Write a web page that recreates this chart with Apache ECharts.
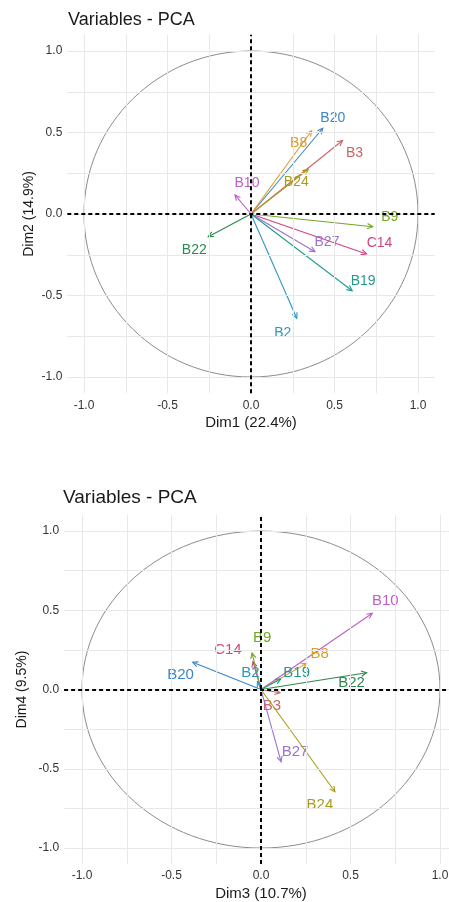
<!DOCTYPE html>
<html>
<head>
<meta charset="utf-8">
<script src="https://cdn.jsdelivr.net/npm/echarts@6/dist/echarts.min.js"></script>
<style>
html,body{margin:0;padding:0;background:#fff;}
#chart{width:449px;height:902px;}
</style>
</head>
<body>
<div id="chart"></div>
<script>
// ---------- data ----------
const titleText = 'Variables - PCA';
const tickLabels = [-1.0, -0.5, 0.0, 0.5, 1.0];
const gridValues = [-1, -0.75, -0.5, -0.25, 0, 0.25, 0.5, 0.75, 1];
const circleRadius = 1;

// Panel 1: Dim1 vs Dim2
const axis1Name = 'Dim1 (22.4%)';
const axis2Name = 'Dim2 (14.9%)';
const vars12 = ['B20', 'B8', 'B3', 'B24', 'B10', 'B9', 'C14', 'B27', 'B19', 'B2', 'B22'];
const dim1 = [0.43, 0.363, 0.548, 0.343, -0.096, 0.729, 0.692, 0.383, 0.606, 0.274, -0.256];
const dim2 = [0.526, 0.511, 0.451, 0.274, 0.117, -0.078, -0.245, -0.231, -0.471, -0.640, -0.139];

// Panel 2: Dim3 vs Dim4
const axis3Name = 'Dim3 (10.7%)';
const axis4Name = 'Dim4 (9.5%)';
const vars34 = ['B10', 'C14', 'B9', 'B20', 'B2', 'B8', 'B19', 'B22', 'B3', 'B27', 'B24'];
const dim3 = [0.622, -0.045, -0.05, -0.382, -0.02, 0.255, 0.11, 0.59, 0.106, 0.112, 0.413];
const dim4 = [0.481, 0.176, 0.230, 0.172, 0.05, 0.165, 0.066, 0.106, -0.02, -0.455, -0.645];

// ---------- styles ----------
const colorMap = {
  B20: '#3a86c8', B8: '#dc9a2c', B3: '#cf6366', B24: '#a89c1e', B10: '#bf5fc4',
  B9: '#74a824', B22: '#2b8a4e', B27: '#9a72d6', C14: '#cf4583', B19: '#1f9c8c', B2: '#2f97bd'
};
// label pixel offsets from the arrow tip (label centre)
const offsets12 = {
  B20: [10, -10], B8: [-13, 12], B3: [12, 13], B24: [-12, 13], B10: [12, -12],
  B9: [17, -10], C14: [13, -11], B27: [12, -10], B19: [11, -10], B2: [-14, 15], B22: [-14, 13]
};
const offsets34 = {
  B10: [13, -12], C14: [-25, -12], B9: [10, -15], B20: [-12, 13], B2: [-7, -9],
  B8: [13, -10], B19: [16, -6], B22: [-15, 10], B3: [-8, 13], B27: [14, -10], B24: [-15, 13]
};
const FONT = "'Liberation Sans', Arial, Helvetica, sans-serif";

function gridLineSeries(xi, yi) {
  const data = [];
  gridValues.forEach(v => { data.push({xAxis: v}); data.push({yAxis: v}); });
  return {
    type: 'scatter', xAxisIndex: xi, yAxisIndex: yi, data: [[0, 0]], symbolSize: 0, silent: true, z: 1,
    markLine: { silent: true, symbol: 'none', animation: false, label: {show: false},
      lineStyle: {color: '#e8e8e8', width: 1, type: 'solid'}, data: data }
  };
}
function zeroLineSeries(xi, yi) {
  return {
    type: 'scatter', xAxisIndex: xi, yAxisIndex: yi, data: [[0, 0]], symbolSize: 0, silent: true, z: 3,
    markLine: { silent: true, symbol: 'none', animation: false, label: {show: false},
      lineStyle: {color: '#000', width: 2, type: [4, 3]}, data: [{xAxis: 0}, {yAxis: 0}] }
  };
}
function circleSeries(xi, yi) {
  return {
    type: 'custom', xAxisIndex: xi, yAxisIndex: yi, data: [[0, 0]], silent: true, z: 2, clip: false,
    renderItem: function (params, api) {
      const c = api.coord([api.value(0), api.value(1)]);
      const s = api.size([circleRadius, circleRadius]);
      return { type: 'ellipse', shape: {cx: c[0], cy: c[1], rx: s[0], ry: s[1]},
        style: {fill: 'none', stroke: '#8c8c8c', lineWidth: 1} };
    }
  };
}
function arrowSeries(xi, yi, names, xs, ys, offs, fontSize) {
  return {
    type: 'custom', xAxisIndex: xi, yAxisIndex: yi, silent: true, z: 4, clip: false,
    data: names.map((n, i) => [xs[i], ys[i]]),
    renderItem: function (params, api) {
      const name = names[params.dataIndex];
      const col = colorMap[name];
      const p0 = api.coord([0, 0]);
      const p1 = api.coord([api.value(0), api.value(1)]);
      const ang = Math.atan2(p1[1] - p0[1], p1[0] - p0[0]);
      const L = 6, a = 0.45;
      const h1 = [p1[0] - L * Math.cos(ang - a), p1[1] - L * Math.sin(ang - a)];
      const h2 = [p1[0] - L * Math.cos(ang + a), p1[1] - L * Math.sin(ang + a)];
      const off = offs[name] || [0, 0];
      return { type: 'group', children: [
        {type: 'line', shape: {x1: p0[0], y1: p0[1], x2: p1[0], y2: p1[1]}, style: {stroke: col, lineWidth: 1.1}},
        {type: 'polyline', shape: {points: [h1, p1, h2]}, style: {stroke: col, lineWidth: 1.1, fill: 'none'}},
        {type: 'text', x: p1[0] + off[0], y: p1[1] + off[1],
          style: {text: name, fill: col, font: fontSize + 'px ' + FONT, align: 'center', verticalAlign: 'middle'}}
      ]};
    }
  };
}
function xAxisCfg(gi, name, fs) {
  return { gridIndex: gi, type: 'value', min: -1.1, max: 1.1,
    axisLine: {show: false}, axisTick: {show: false}, splitLine: {show: false},
    axisLabel: {customValues: tickLabels, formatter: v => v.toFixed(1), color: '#333333', fontSize: 12, margin: 6, fontFamily: FONT},
    name: name, nameLocation: 'middle', nameGap: 22, nameMoveOverlap: false,
    nameTextStyle: {fontSize: fs, color: '#1a1a1a', fontFamily: FONT} };
}
function yAxisCfg(gi, name, fs, gap) {
  return { gridIndex: gi, type: 'value', min: -1.1, max: 1.1,
    axisLine: {show: false}, axisTick: {show: false}, splitLine: {show: false},
    axisLabel: {customValues: tickLabels, formatter: v => v.toFixed(1), color: '#333333', fontSize: 12, margin: 5, fontFamily: FONT},
    name: name, nameLocation: 'middle', nameGap: gap, nameMoveOverlap: false,
    nameTextStyle: {fontSize: fs, color: '#1a1a1a', fontFamily: FONT} };
}

const chart = echarts.init(document.getElementById('chart'), null, {renderer: 'canvas'});
chart.setOption({
  animation: false,
  backgroundColor: '#ffffff',
  title: [
    {text: titleText, left: 68, top: 11, padding: 0, textStyle: {fontSize: 18, fontWeight: 'normal', color: '#1a1a1a', fontFamily: FONT}},
    {text: titleText, left: 63, top: 488, padding: 0, textStyle: {fontSize: 19, fontWeight: 'normal', color: '#1a1a1a', fontFamily: FONT}}
  ],
  grid: [
    {left: 67.3, width: 367.4, top: 34.7, height: 358.6, outerBoundsMode: 'none', containLabel: false},
    {left: 64.1, width: 393.8, top: 515.2, height: 348.7, outerBoundsMode: 'none', containLabel: false}
  ],
  xAxis: [xAxisCfg(0, axis1Name, 15), xAxisCfg(1, axis3Name, 15)],
  yAxis: [yAxisCfg(0, axis2Name, 14, 31), yAxisCfg(1, axis4Name, 14, 35)],
  series: [
    gridLineSeries(0, 0), circleSeries(0, 0), zeroLineSeries(0, 0),
    arrowSeries(0, 0, vars12, dim1, dim2, offsets12, 14),
    gridLineSeries(1, 1), circleSeries(1, 1), zeroLineSeries(1, 1),
    arrowSeries(1, 1, vars34, dim3, dim4, offsets34, 15)
  ]
});
</script>
</body>
</html>
